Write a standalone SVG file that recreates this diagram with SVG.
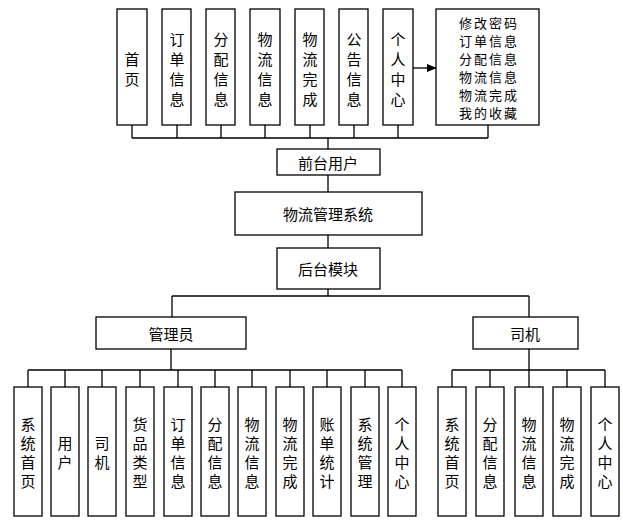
<svg xmlns="http://www.w3.org/2000/svg" width="623" height="525" viewBox="0 0 623 525">
<style>
rect{fill:#fff;stroke:#000;stroke-width:1.3}
text{font-family:"Noto Sans CJK SC","Liberation Sans",sans-serif;font-size:15px;text-anchor:middle;dominant-baseline:central;fill:#000}
.m{font-size:13px;letter-spacing:2px}
.c path{fill:none;stroke:#000;stroke-width:1.3}
</style>
<defs><marker id="a" markerWidth="10" markerHeight="8" refX="9" refY="4" orient="auto" markerUnits="userSpaceOnUse"><path d="M0,0L10,4L0,8z" fill="#000"/></marker></defs>
<g class="c">
<path d="M132,125V138M177,125V138M221,125V138M265,125V138M310,125V138M354,125V138M398,125V138M488,125V138M132,138H488M328,138V149M328,175V192M328,235V248M328,289V296M172,296H529M172,296V317M529,296V317"/>
<path d="M413,68H436" marker-end="url(#a)"/>
<path d="M171,348V370M28,370H402M28,370V387M65,370V387M102,370V387M140,370V387M178,370V387M215,370V387M252,370V387M290,370V387M327,370V387M365,370V387M402,370V387"/>
<path d="M529,348V370M452,370H605M452,370V387M490,370V387M529,370V387M567,370V387M605,370V387"/>
</g>
<g id="n1"><rect x="117" y="9" width="30" height="116"/><text x="132"><tspan x="132" y="58">首</tspan><tspan x="132" y="78">页</tspan></text></g>
<g id="n2"><rect x="162" y="9" width="29" height="116"/><text><tspan x="177" y="38">订</tspan><tspan x="177" y="58">单</tspan><tspan x="177" y="78">信</tspan><tspan x="177" y="98">息</tspan></text></g>
<g id="n3"><rect x="206" y="9" width="29" height="116"/><text><tspan x="221" y="38">分</tspan><tspan x="221" y="58">配</tspan><tspan x="221" y="78">信</tspan><tspan x="221" y="98">息</tspan></text></g>
<g id="n4"><rect x="250" y="9" width="30" height="116"/><text><tspan x="265" y="38">物</tspan><tspan x="265" y="58">流</tspan><tspan x="265" y="78">信</tspan><tspan x="265" y="98">息</tspan></text></g>
<g id="n5"><rect x="295" y="9" width="29" height="116"/><text><tspan x="310" y="38">物</tspan><tspan x="310" y="58">流</tspan><tspan x="310" y="78">完</tspan><tspan x="310" y="98">成</tspan></text></g>
<g id="n6"><rect x="339" y="9" width="29" height="116"/><text><tspan x="354" y="38">公</tspan><tspan x="354" y="58">告</tspan><tspan x="354" y="78">信</tspan><tspan x="354" y="98">息</tspan></text></g>
<g id="n7"><rect x="383" y="9" width="30" height="116"/><text><tspan x="398" y="38">个</tspan><tspan x="398" y="58">人</tspan><tspan x="398" y="78">中</tspan><tspan x="398" y="98">心</tspan></text></g>
<g id="n8"><rect x="436" y="9" width="103" height="116"/><text class="m" x="489" y="22">修改密码</text><text class="m" x="489" y="40">订单信息</text><text class="m" x="489" y="58">分配信息</text><text class="m" x="489" y="76">物流信息</text><text class="m" x="489" y="94">物流完成</text><text class="m" x="489" y="112">我的收藏</text></g>
<g id="qt"><rect x="277" y="149" width="103" height="26"/><text x="328" y="162">前台用户</text></g>
<g id="sys"><rect x="235" y="192" width="187" height="43"/><text x="328" y="213" font-size="16">物流管理系统</text></g>
<g id="ht"><rect x="277" y="248" width="103" height="41"/><text x="328" y="268">后台模块</text></g>
<g id="admin"><rect x="96" y="317" width="150" height="32"/><text x="171" y="333">管理员</text></g>
<g id="driver"><rect x="473" y="317" width="105" height="32"/><text x="525" y="333">司机</text></g>
<g id="a1"><rect x="14" y="387" width="28" height="129"/><text><tspan x="28" y="423">系</tspan><tspan x="28" y="442">统</tspan><tspan x="28" y="461">首</tspan><tspan x="28" y="480">页</tspan></text></g>
<g id="a2"><rect x="51" y="387" width="28" height="129"/><text><tspan x="65" y="442">用</tspan><tspan x="65" y="461">户</tspan></text></g>
<g id="a3"><rect x="88" y="387" width="28" height="129"/><text><tspan x="102" y="442">司</tspan><tspan x="102" y="461">机</tspan></text></g>
<g id="a4"><rect x="126" y="387" width="28" height="129"/><text><tspan x="140" y="423">货</tspan><tspan x="140" y="442">品</tspan><tspan x="140" y="461">类</tspan><tspan x="140" y="480">型</tspan></text></g>
<g id="a5"><rect x="164" y="387" width="28" height="129"/><text><tspan x="178" y="423">订</tspan><tspan x="178" y="442">单</tspan><tspan x="178" y="461">信</tspan><tspan x="178" y="480">息</tspan></text></g>
<g id="a6"><rect x="201" y="387" width="28" height="129"/><text><tspan x="215" y="423">分</tspan><tspan x="215" y="442">配</tspan><tspan x="215" y="461">信</tspan><tspan x="215" y="480">息</tspan></text></g>
<g id="a7"><rect x="238" y="387" width="28" height="129"/><text><tspan x="252" y="423">物</tspan><tspan x="252" y="442">流</tspan><tspan x="252" y="461">信</tspan><tspan x="252" y="480">息</tspan></text></g>
<g id="a8"><rect x="276" y="387" width="28" height="129"/><text><tspan x="290" y="423">物</tspan><tspan x="290" y="442">流</tspan><tspan x="290" y="461">完</tspan><tspan x="290" y="480">成</tspan></text></g>
<g id="a9"><rect x="313" y="387" width="28" height="129"/><text><tspan x="327" y="423">账</tspan><tspan x="327" y="442">单</tspan><tspan x="327" y="461">统</tspan><tspan x="327" y="480">计</tspan></text></g>
<g id="a10"><rect x="351" y="387" width="28" height="129"/><text><tspan x="365" y="423">系</tspan><tspan x="365" y="442">统</tspan><tspan x="365" y="461">管</tspan><tspan x="365" y="480">理</tspan></text></g>
<g id="a11"><rect x="388" y="387" width="28" height="129"/><text><tspan x="402" y="423">个</tspan><tspan x="402" y="442">人</tspan><tspan x="402" y="461">中</tspan><tspan x="402" y="480">心</tspan></text></g>
<g id="d1"><rect x="438" y="387" width="28" height="129"/><text><tspan x="452" y="423">系</tspan><tspan x="452" y="442">统</tspan><tspan x="452" y="461">首</tspan><tspan x="452" y="480">页</tspan></text></g>
<g id="d2"><rect x="476" y="387" width="28" height="129"/><text><tspan x="490" y="423">分</tspan><tspan x="490" y="442">配</tspan><tspan x="490" y="461">信</tspan><tspan x="490" y="480">息</tspan></text></g>
<g id="d3"><rect x="515" y="387" width="28" height="129"/><text><tspan x="529" y="423">物</tspan><tspan x="529" y="442">流</tspan><tspan x="529" y="461">信</tspan><tspan x="529" y="480">息</tspan></text></g>
<g id="d4"><rect x="553" y="387" width="28" height="129"/><text><tspan x="567" y="423">物</tspan><tspan x="567" y="442">流</tspan><tspan x="567" y="461">完</tspan><tspan x="567" y="480">成</tspan></text></g>
<g id="d5"><rect x="591" y="387" width="28" height="129"/><text><tspan x="605" y="423">个</tspan><tspan x="605" y="442">人</tspan><tspan x="605" y="461">中</tspan><tspan x="605" y="480">心</tspan></text></g>
</svg>
